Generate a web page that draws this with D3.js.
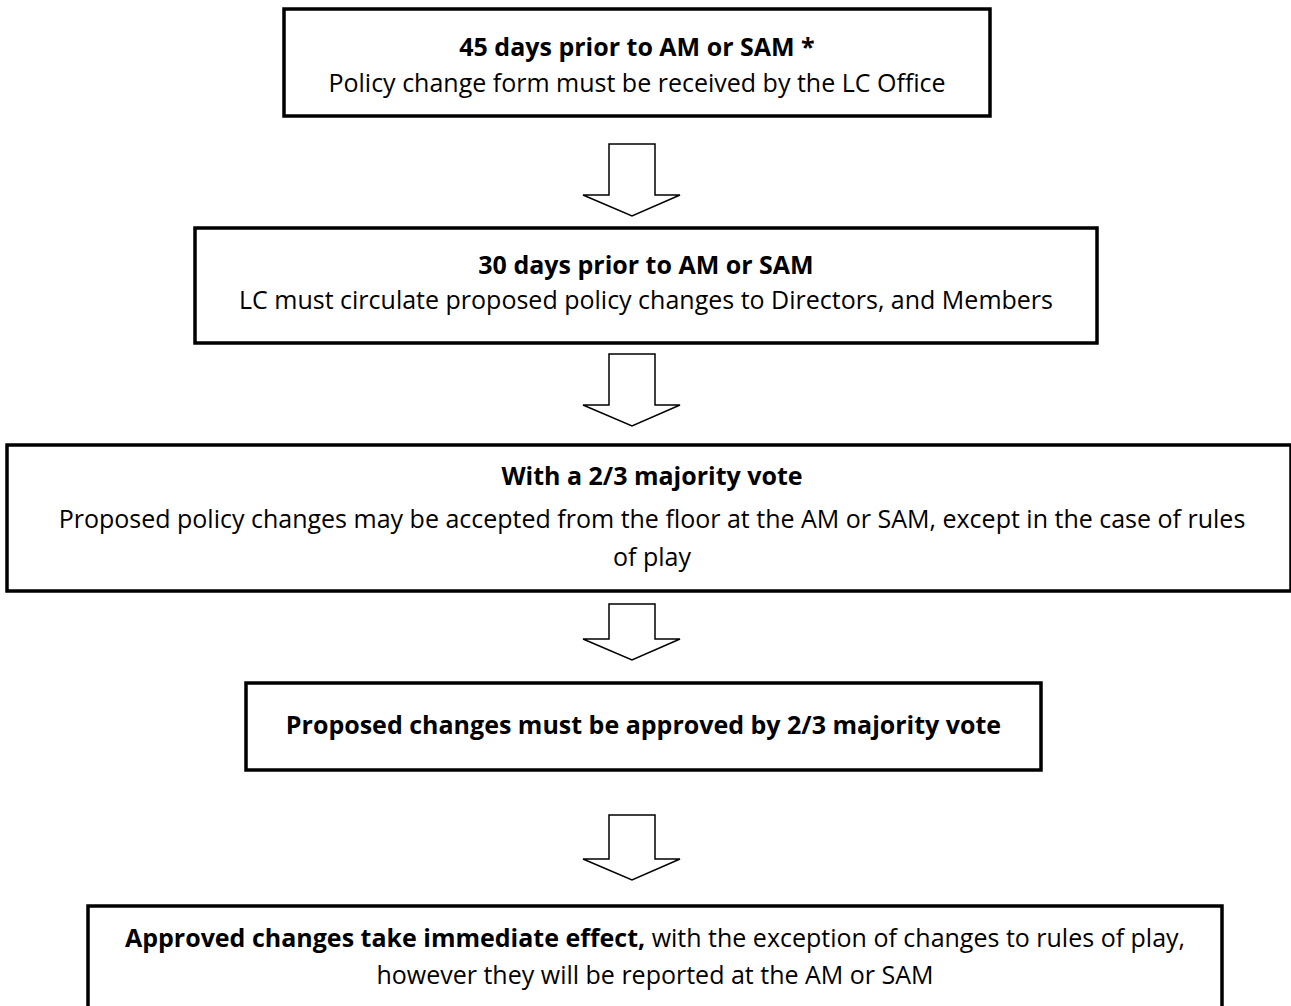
<!DOCTYPE html>
<html>
<head>
<meta charset="utf-8">
<script src="https://cdn.jsdelivr.net/npm/d3@7"></script>
<style>
  body { margin: 0; background: #fff; }
  svg text { font-family: "Open Sans", Lato, sans-serif; fill: #000; }
</style>
</head>
<body>
<div id="chart"></div>
<script>
var w = 1291;
var h = 1006;

// text of each step (bold part first, then plain lines)
var titles = [
  "45 days prior to AM or SAM *",
  "30 days prior to AM or SAM",
  "With a 2/3 majority vote",
  "Proposed changes must be approved by 2/3 majority vote",
  "Approved changes take immediate effect,"
];
var details = [
  ["Policy change form must be received by the LC Office"],
  ["LC must circulate proposed policy changes to Directors, and Members"],
  ["Proposed policy changes may be accepted from the floor at the AM or SAM, except in the case of rules", "of play"],
  [],
  [" with the exception of changes to rules of play,", "however they will be reported at the AM or SAM"]
];

// layout of the boxes (x0, x1, y0, y1) and arrows (top, tip)
var boxes = [
  [284, 990, 9, 116],
  [195, 1097, 228, 343],
  [7, 1291, 445, 591],
  [246, 1041, 683, 770],
  [88, 1222, 906, 1010]
];
var arrows = [[144, 216], [354, 426], [604, 660], [815, 880]];
var arrowX = 632;

var svg1 = d3.select("#chart")
  .append("svg")
  .attr("width", w)
  .attr("height", h);

var fs = 25;

//draw boxes
svg1.selectAll("rect.box")
  .data(boxes)
  .enter()
  .append("rect")
  .attr("class", "box")
  .attr("x", function(d) { return d[0]; })
  .attr("y", function(d) { return d[2]; })
  .attr("width", function(d) { return d[1] - d[0]; })
  .attr("height", function(d) { return d[3] - d[2]; })
  .attr("fill", "#fff")
  .attr("stroke", "#000")
  .attr("stroke-width", 3.5);

//draw arrows
var arrowPath = function(d) {
  var top = d[0], tip = d[1];
  var neck = tip - 21;
  return "M" + (arrowX - 23) + "," + top +
    "L" + (arrowX + 23) + "," + top +
    "L" + (arrowX + 23) + "," + neck +
    "L" + (arrowX + 48) + "," + neck +
    "L" + arrowX + "," + tip +
    "L" + (arrowX - 49) + "," + neck +
    "L" + (arrowX - 23) + "," + neck + "Z";
};
svg1.selectAll("path.arrow")
  .data(arrows)
  .enter()
  .append("path")
  .attr("class", "arrow")
  .attr("d", arrowPath)
  .attr("fill", "#fff")
  .attr("stroke", "#000")
  .attr("stroke-width", 1.5);

//text baselines per box
var baselines = [
  [56, 92],
  [274, 309],
  [485, 528, 566],
  [734],
  [947, 984]
];

boxes.forEach(function(b, i) {
  var cx = (b[0] + b[1]) / 2 + (i == 2 ? 3 : 0);
  var g = svg1.append("g");
  if (i < 4) {
    g.append("text")
      .attr("x", cx)
      .attr("y", baselines[i][0])
      .attr("text-anchor", "middle")
      .style("font-size", fs + "px")
      .style("font-weight", "bold")
      .text(titles[i]);
    details[i].forEach(function(line, j) {
      g.append("text")
        .attr("x", cx)
        .attr("y", baselines[i][j + 1])
        .attr("text-anchor", "middle")
        .style("font-size", fs + "px")
        .text(line);
    });
  } else {
    var t1 = g.append("text")
      .attr("x", cx)
      .attr("y", baselines[i][0])
      .attr("text-anchor", "middle")
      .style("font-size", fs + "px");
    t1.append("tspan").style("font-weight", "bold").text(titles[i]);
    t1.append("tspan").text(details[i][0]);
    g.append("text")
      .attr("x", cx)
      .attr("y", baselines[i][1])
      .attr("text-anchor", "middle")
      .style("font-size", fs + "px")
      .text(details[i][1]);
  }
});
</script>
</body>
</html>
